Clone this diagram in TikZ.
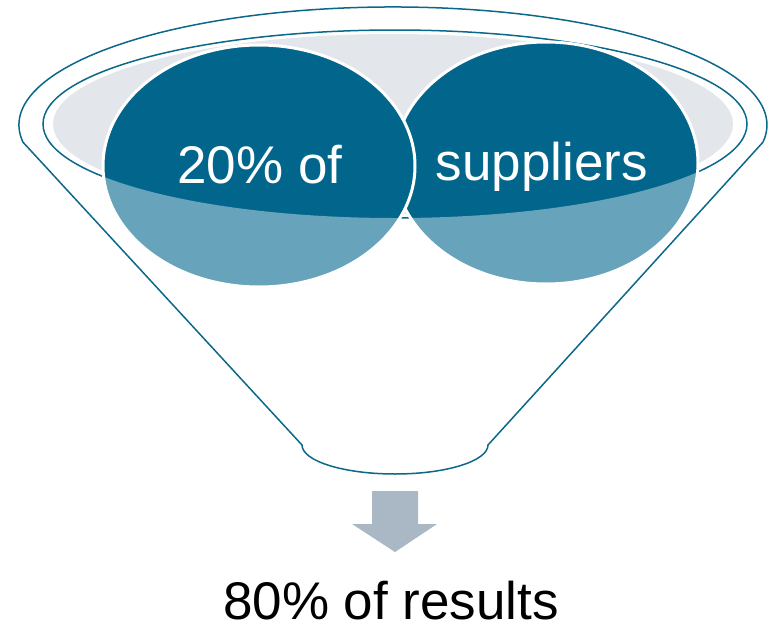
\documentclass[tikz,border=0pt]{standalone}
\usepackage{fontspec}
\setmainfont{Liberation Sans}
\definecolor{darkblue}{HTML}{02668C}
\definecolor{rimblue}{HTML}{0B6889}
\definecolor{rimgray}{HTML}{E3E6EB}
\definecolor{arrowgray}{HTML}{AAB7C4}
\begin{document}
\begin{tikzpicture}[x=1pt,y=-1pt,
  rim/.style={draw=rimblue,line width=1.5pt},
  bubble/.style={fill=darkblue,draw=white,line width=3pt},
  bubbletext/.style={text=white,font=\fontsize{53}{60}\selectfont,anchor=base,inner sep=0pt},
  resulttext/.style={text=black,font=\fontsize{53}{60}\selectfont,anchor=base,inner sep=0pt}]
\useasboundingbox (0,0) rectangle (769,624);
% gray rim interior
\fill[rimgray] (393,124) ellipse[x radius=340,y radius=90];
% inner rim
\draw[rim] (395,124) ellipse[x radius=352,y radius=94];
% bubbles
\draw[bubble] (546,163) ellipse[x radius=152,y radius=121];
\draw[bubble] (259,166) ellipse[x radius=156,y radius=121];
% funnel front overlay
\begin{scope}
\clip (259,166) ellipse[x radius=156,y radius=121] (546,163) ellipse[x radius=152,y radius=121];
\fill[white,opacity=0.4] (43,124) arc[start angle=180,end angle=0,x radius=352,y radius=94] -- (760,320) -- (30,320) -- cycle;
\end{scope}
% funnel outline
\draw[rim,line join=round] (23,142.2) arc[start angle=171.6,end angle=368.4,x radius=374,y radius=118]
  -- (488,445) arc[start angle=0,end angle=180,x radius=93,y radius=29] -- cycle;
% texts
\node[bubbletext] (t20) at (260,183) {20\% of};
\node[bubbletext] (tsup) at (542,180) {suppliers};
% arrow
\fill[arrowgray] (372,491) -- (418,491) -- (418,524) -- (437,524) -- (395,552) -- (352,524) -- (372,524) -- cycle;
\node[resulttext] (t80) at (391,619) {80\% of results};
\end{tikzpicture}
\end{document}
